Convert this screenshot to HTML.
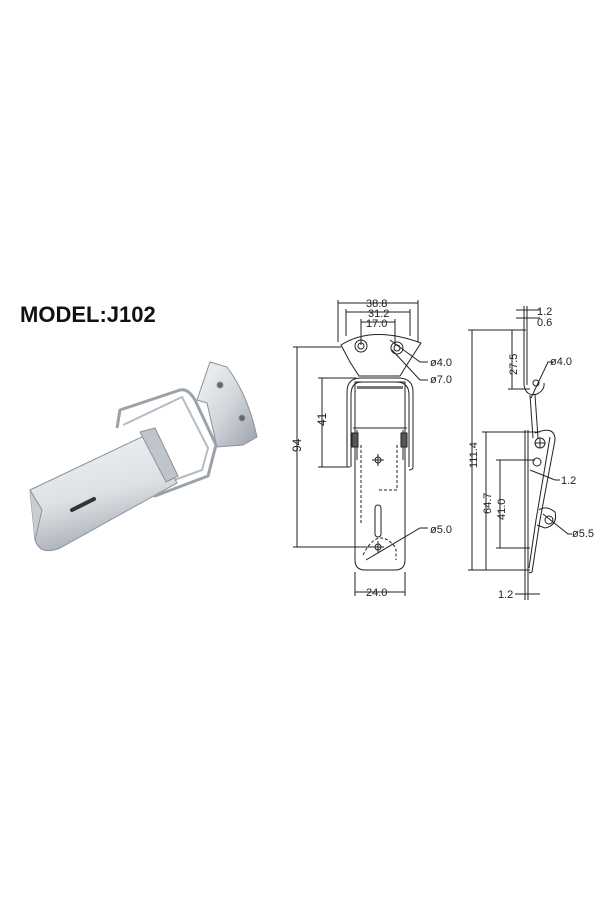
<!DOCTYPE html>
<html><head><style>
body{margin:0;background:#fff;}
svg{display:block;}
text{font-family:"Liberation Sans",sans-serif;}
</style></head><body>
<svg width="600" height="900" viewBox="0 0 600 900" xmlns="http://www.w3.org/2000/svg">
<defs>
<linearGradient id="m" x1="0" y1="0" x2="1" y2="1">
<stop offset="0" stop-color="#f4f6f8"/><stop offset="0.5" stop-color="#d3d8dd"/><stop offset="1" stop-color="#9aa1a8"/></linearGradient>
<linearGradient id="m2" x1="0" y1="0" x2="0.3" y2="1">
<stop offset="0" stop-color="#f2f4f6"/><stop offset="0.6" stop-color="#dde1e5"/><stop offset="1" stop-color="#a9b0b7"/></linearGradient>
</defs>
<text x="20" y="322" font-size="22" font-weight="bold" fill="#111">MODEL:J102</text>
<!-- photo -->
<g stroke="#8a929a" stroke-width="1">
<path d="M210,362 L227,367 Q248,395 257,437 L243,445 L217,447 L207,403 L197,400 Z" fill="url(#m)"/>
<circle cx="220" cy="385" r="3" fill="#666"/><circle cx="242" cy="418" r="3" fill="#666"/>
<path d="M117,428 L120,410 L180,390 Q188,388 195,400 L216,445 L208,476 L155,496 L148,490" fill="none" stroke="#9aa2aa" stroke-width="3" stroke-linejoin="round"/>
<path d="M123,425 L182,397 L208,448 L202,470 L152,488" fill="none" stroke="#b5bcc3" stroke-width="2" stroke-linejoin="round"/>
<path d="M30,490 L150,433 L177,483 L60,548 Q40,556 35,540 Z" fill="url(#m2)"/>
<path d="M30,490 L42,510 L35,540" fill="#c8cdd2"/>
<path d="M140,432 L155,428 L178,476 L166,482 Z" fill="#bfc5cb"/>
<path d="M72,510 L94,499" stroke="#333" stroke-width="4" stroke-linecap="round"/>
</g>
<!-- front view -->
<g fill="none" stroke="#222" stroke-width="1">
<path d="M338,300 V342 M418,300 V342 M346,309 V336 M410,309 V336 M361,319 V345 M395,319 V346"/>
<path d="M338,303 H418 M346,312 H410 M361,322 H395"/>
<path d="M341,345 Q372,325 421,343 L408,363 L400,376 L359,376 L350,362 Z"/>
<circle cx="361" cy="346" r="6"/><circle cx="361" cy="346" r="3"/>
<circle cx="397" cy="348" r="6"/><circle cx="397" cy="348" r="3"/>
<path d="M390,340 L420,362 H428 M392,350 L420,380 H428"/>
<path d="M347,467 V392 Q347,378 361,378 H398 Q413,378 413,392 V467 Q413,470 409,470"/>
<path d="M351,467 V395 Q351,382 362,382 H396 Q409,382 409,395 V467"/>
<path d="M355,382 H405 V560 Q405,570 395,570 H365 Q355,570 355,560 Z"/>
<rect x="357" y="386" width="46" height="3" fill="#777" stroke="none"/>
<path d="M353,428 H407 M357,430 V460 M403,430 V460"/>
<rect x="352" y="433" width="6" height="14" fill="#555"/><rect x="401" y="433" width="6" height="14" fill="#555"/>
<path d="M361,445 V525 M397,445 V490 H378" stroke-dasharray="3,2"/>
<path d="M372,460 H384 M378,454 V466"/><circle cx="378" cy="460" r="3"/>
<rect x="375" y="505" width="6" height="32" rx="3"/>
<path d="M372,547 H384 M378,541 V553"/><circle cx="378" cy="547" r="3"/>
<path d="M363,555 Q378,525 396,548 V560" stroke-dasharray="3,2"/>
<path d="M366,560 L420,528 H428"/>
<path d="M297,347 V547 M293,347 H341 M293,547 H378"/>
<path d="M322,378 V467 M318,378 H356 M318,467 H350"/>
<path d="M355,572 V596 M405,572 V596 M355,592 H405"/>
</g>
<g font-size="11" fill="#222">
<text x="366" y="307">38.8</text><text x="368" y="317">31.2</text><text x="366" y="327">17.0</text>
<text x="430" y="366">ø4.0</text><text x="430" y="383">ø7.0</text><text x="430" y="533">ø5.0</text>
<text x="366" y="596">24.0</text>
<text transform="translate(301,452) rotate(-90)" font-size="12">94</text>
<text transform="translate(326,426) rotate(-90)" font-size="12">41</text>
</g>
<!-- side view -->
<g fill="none" stroke="#222" stroke-width="1">
<path d="M524,306 V385 M527,306 V385 M516,310 H540 M516,318 H540"/>
<path d="M524,385 Q526,397 537,394 Q545,390 544,383"/>
<circle cx="536" cy="383" r="3"/>
<path d="M530,395 L533,438 M535,395 L538,438 M531,398 L548,362 H553"/>
<path d="M525,430 V600 M528,430 V600"/>
<path d="M535,433 Q555,425 555,440 L540,520 L532,572 L529,573"/>
<path d="M550,437 L536,520 L529,568"/>
<circle cx="540" cy="443" r="5"/><path d="M535,443 H545 M540,438 V448"/>
<circle cx="537" cy="462" r="4"/>
<path d="M530,470 L555,480 H560"/>
<path d="M539,510 Q546,505 555,512 Q558,525 545,528 L537,525"/>
<circle cx="549" cy="520" r="4"/><path d="M543,514 L568,534 H572"/>
<path d="M472,330 V570 M468,330 H526 M468,570 H530"/>
<path d="M512,330 V389 M508,389 H530"/>
<path d="M486,432 V570 M482,432 H540"/>
<path d="M500,460 V548 M496,460 H535 M496,548 H530"/>
<path d="M515,594 H540"/>
</g>
<g font-size="11" fill="#222">
<text x="537" y="315">1.2</text><text x="537" y="326">0.6</text>
<text x="550" y="365">ø4.0</text><text x="561" y="484">1.2</text><text x="572" y="537">ø5.5</text>
<text x="498" y="598">1.2</text>
<text transform="translate(477,468) rotate(-90)">111.4</text>
<text transform="translate(517,375) rotate(-90)">27.5</text>
<text transform="translate(491,514) rotate(-90)">64.7</text>
<text transform="translate(505,520) rotate(-90)">41.0</text>
</g>
</svg>
</body></html>
